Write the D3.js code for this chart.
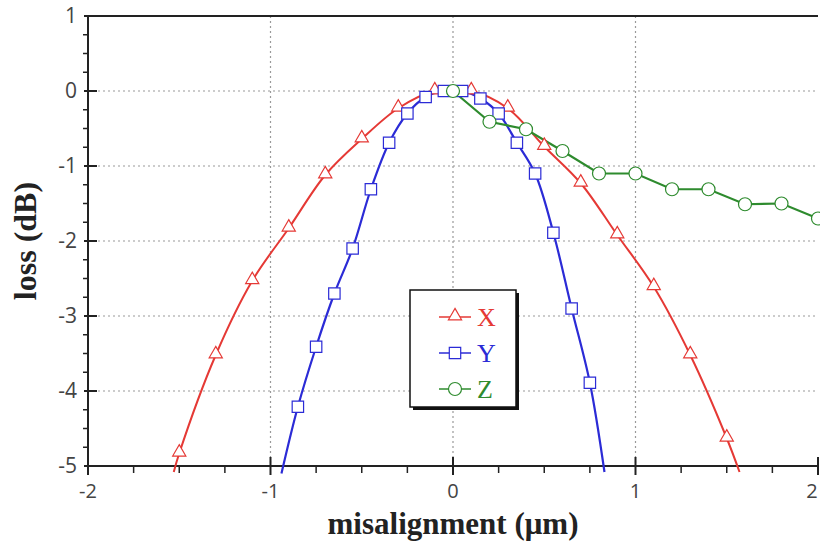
<!DOCTYPE html>
<html>
<head>
<meta charset="utf-8">
<script src="https://cdn.jsdelivr.net/npm/d3@7"></script>
<style>
  body { margin: 0; background: #fff; }
  svg { display: block; }
</style>
</head>
<body>
<div id="chart"></div>
<script>
// misalignment (um) vs loss (dB)
const xSeriesX = [-1.5, -1.3, -1.1, -0.9, -0.7, -0.5, -0.3, -0.1, 0.1, 0.3, 0.5, 0.7, 0.9, 1.1, 1.3, 1.5];
const xSeriesLoss = [-4.83, -3.52, -2.53, -1.83, -1.12, -0.64, -0.23, 0, 0, -0.23, -0.74, -1.23, -1.92, -2.61, -3.52, -4.63];
const xSeriesEnds = [[-1.53, -5.08], [1.57, -5.08]];

const ySeriesX = [-0.85, -0.75, -0.65, -0.55, -0.45, -0.35, -0.25, -0.15, -0.05, 0.05, 0.15, 0.25, 0.35, 0.45, 0.55, 0.65, 0.75];
const ySeriesLoss = [-4.21, -3.41, -2.7, -2.1, -1.31, -0.69, -0.3, -0.08, 0, 0, -0.1, -0.3, -0.69, -1.1, -1.89, -2.9, -3.89];
const ySeriesEnds = [[-0.94, -5.1], [0.83, -5.08]];

const zSeriesX = [0, 0.2, 0.4, 0.6, 0.8, 1.0, 1.2, 1.4, 1.6, 1.8, 2.0];
const zSeriesLoss = [0, -0.41, -0.51, -0.8, -1.1, -1.1, -1.31, -1.31, -1.51, -1.5, -1.7];

const xTicks = [-2, -1, 0, 1, 2];
const yTicks = [1, 0, -1, -2, -3, -4, -5];
const legendNames = ["X", "Y", "Z"];

const width = 820, height = 547;
const margin = {left: 88, right: 2, top: 16, bottom: 81};

const svg = d3.select("#chart").append("svg")
    .attr("width", width)
    .attr("height", height);

const x = d3.scaleLinear().domain([-2, 2]).range([margin.left, width - margin.right]);
const y = d3.scaleLinear().domain([-5, 1]).range([height - margin.bottom, margin.top]);

// grid
const grid = svg.append("g").attr("stroke", "#999").attr("stroke-dasharray", "2,3").attr("stroke-width", 1.2);
grid.selectAll(".gx").data(xTicks.filter(t => t > -2 && t < 2)).enter().append("line")
    .attr("x1", d => x(d)).attr("x2", d => x(d))
    .attr("y1", y(1)).attr("y2", y(-5));
grid.selectAll(".gy").data(yTicks.filter(t => t < 1 && t > -5)).enter().append("line")
    .attr("x1", x(-2)).attr("x2", x(2))
    .attr("y1", d => y(d)).attr("y2", d => y(d));

// minor ticks
const minorX = d3.range(-2, 2.001, 0.25).filter(v => Math.abs(v - Math.round(v)) > 0.01);
const minorY = d3.range(-5, 1.001, 0.25).filter(v => Math.abs(v - Math.round(v)) > 0.01);

const axes = svg.append("g").attr("stroke", "#222");
axes.selectAll(".mx").data(minorX).enter().append("line")
    .attr("x1", d => x(d)).attr("x2", d => x(d))
    .attr("y1", y(-5)).attr("y2", y(-5) + 7).attr("stroke-width", 1.5);
axes.selectAll(".my").data(minorY).enter().append("line")
    .attr("x1", x(-2) - 5).attr("x2", x(-2))
    .attr("y1", d => y(d)).attr("y2", d => y(d)).attr("stroke-width", 1.5);
axes.selectAll(".Mx").data(xTicks).enter().append("line")
    .attr("x1", d => x(d)).attr("x2", d => x(d))
    .attr("y1", y(-5) - 9).attr("y2", y(-5) + 9).attr("stroke-width", 2);
axes.selectAll(".My").data(yTicks).enter().append("line")
    .attr("x1", x(-2) - 4).attr("x2", x(-2) + 9)
    .attr("y1", d => y(d)).attr("y2", d => y(d)).attr("stroke-width", 2);

// frame: left, bottom, top
axes.append("line").attr("x1", x(-2)).attr("x2", x(-2)).attr("y1", y(1)).attr("y2", y(-5)).attr("stroke-width", 2);
axes.append("line").attr("x1", x(-2)).attr("x2", x(2)).attr("y1", y(-5)).attr("y2", y(-5)).attr("stroke-width", 2);
axes.append("line").attr("x1", x(-2)).attr("x2", x(2)).attr("y1", y(1)).attr("y2", y(1)).attr("stroke-width", 2);

// tick labels (last one nudged in so it stays on the page)
svg.append("g").selectAll("text").data(xTicks).enter().append("text")
    .attr("x", d => Math.min(x(d), width - 8)).attr("y", y(-5) + 32)
    .attr("text-anchor", "middle")
    .attr("font-family", "Open Sans, DejaVu Sans, sans-serif").attr("font-size", 20)
    .attr("fill", "#444")
    .text(d => d);
svg.append("g").selectAll("text").data(yTicks).enter().append("text")
    .attr("x", x(-2) - 11).attr("y", d => y(d)).attr("dy", "0.35em")
    .attr("text-anchor", "end")
    .attr("font-family", "Open Sans, DejaVu Sans, sans-serif").attr("font-size", 21)
    .attr("fill", "#444")
    .text(d => d);

// axis titles
svg.append("text")
    .attr("x", x(0)).attr("y", 534)
    .attr("text-anchor", "middle")
    .attr("font-family", "Liberation Serif, serif").attr("font-weight", "bold").attr("font-size", 31)
    .attr("fill", "#222")
    .text("misalignment (\u03bcm)");
svg.append("text")
    .attr("transform", `translate(36,${y(-2)}) rotate(-90)`)
    .attr("text-anchor", "middle")
    .attr("font-family", "Liberation Serif, serif").attr("font-weight", "bold").attr("font-size", 32)
    .attr("fill", "#222")
    .text("loss (dB)");

// clip the curves to slightly below the bottom axis
svg.append("clipPath").attr("id", "clip").append("rect")
    .attr("x", x(-2)).attr("y", y(1)).attr("width", x(2) - x(-2) + 2).attr("height", y(-5) - y(1) + 8);

const colors = {X: "#e53935", Y: "#2b2bd6", Z: "#2e8b2e"};

const smooth = d3.line().x(d => x(d[0])).y(d => y(d[1])).curve(d3.curveCatmullRom.alpha(0.5));
const straight = d3.line().x(d => x(d[0])).y(d => y(d[1]));

const xPts = xSeriesX.map((v, i) => [v, xSeriesLoss[i]]);
const yPts = ySeriesX.map((v, i) => [v, ySeriesLoss[i]]);
const zPts = zSeriesX.map((v, i) => [v, zSeriesLoss[i]]);

const plot = svg.append("g").attr("clip-path", "url(#clip)");
plot.append("path").attr("d", smooth([xSeriesEnds[0], ...xPts, xSeriesEnds[1]]))
    .attr("fill", "none").attr("stroke", colors.X).attr("stroke-width", 2);
plot.append("path").attr("d", smooth([ySeriesEnds[0], ...yPts, ySeriesEnds[1]]))
    .attr("fill", "none").attr("stroke", colors.Y).attr("stroke-width", 2.2);
plot.append("path").attr("d", straight(zPts))
    .attr("fill", "none").attr("stroke", colors.Z).attr("stroke-width", 2.2);

const tri = d3.symbol().type(d3.symbolTriangle).size(75);
const sq = d3.symbol().type(d3.symbolSquare).size(130);

function drawMarker(g, type, cx, cy) {
    if (type === "X") {
        g.append("path").attr("d", tri()).attr("transform", `translate(${cx},${cy - 1})`)
            .attr("fill", "#fff").attr("stroke", colors.X).attr("stroke-width", 1.2);
    } else if (type === "Y") {
        g.append("path").attr("d", sq()).attr("transform", `translate(${cx},${cy})`)
            .attr("fill", "#fff").attr("stroke", colors.Y).attr("stroke-width", 1.2);
    } else {
        g.append("circle").attr("cx", cx).attr("cy", cy).attr("r", 6.5)
            .attr("fill", "#fff").attr("stroke", colors.Z).attr("stroke-width", 1.2);
    }
}

const markers = svg.append("g");
xPts.forEach(p => drawMarker(markers, "X", x(p[0]), y(p[1])));
yPts.forEach(p => drawMarker(markers, "Y", x(p[0]), y(p[1])));
zPts.forEach(p => drawMarker(markers, "Z", x(p[0]), y(p[1])));

// legend
const lg = svg.append("g");
lg.append("rect").attr("x", 413).attr("y", 293).attr("width", 106).attr("height", 117).attr("fill", "#111");
lg.append("rect").attr("x", 410).attr("y", 290).attr("width", 106).attr("height", 117)
    .attr("fill", "#fff").attr("stroke", "#111").attr("stroke-width", 1.5);
legendNames.forEach((name, i) => {
    const ly = 317 + i * 36;
    lg.append("line").attr("x1", 439).attr("x2", 471).attr("y1", ly).attr("y2", ly)
        .attr("stroke", colors[name]).attr("stroke-width", 1.5);
    drawMarker(lg, name, 455, ly);
    lg.append("text").attr("x", 477).attr("y", ly).attr("dy", "0.35em")
        .attr("font-family", "Liberation Serif, serif").attr("font-size", 26)
        .attr("fill", colors[name])
        .text(name);
});
</script>
</body>
</html>
